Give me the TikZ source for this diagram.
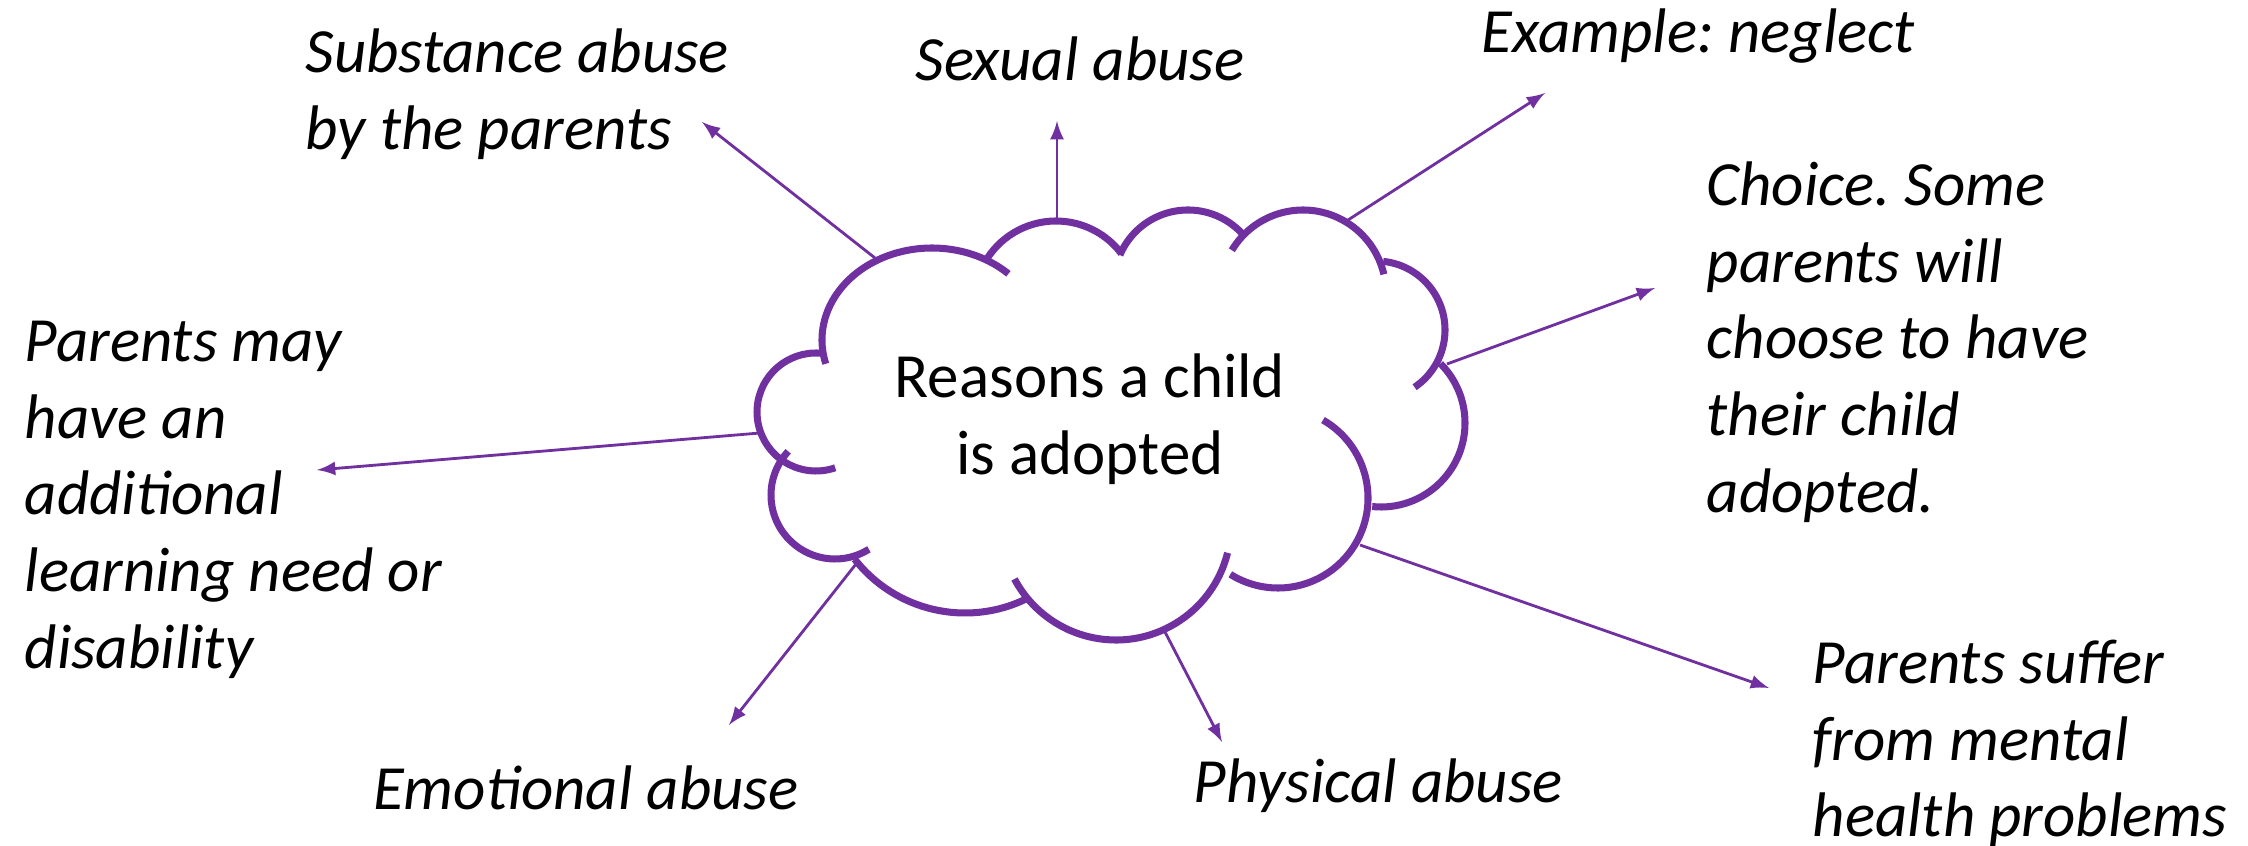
\documentclass[tikz,border=0pt]{standalone}
\usepackage{fontspec}
\setmainfont{Carlito}
\usepackage{tikz}
\usetikzlibrary{calc}
\definecolor{cloudpurple}{HTML}{7030A0}
\frenchspacing

\begin{document}
\begin{tikzpicture}[x=0.01cm,y=-0.01cm,
    cloudline/.style={cloudpurple,line width=2pt},
    reason/.style={-latex,cloudpurple,line width=0.8pt},
    lbl/.style={font=\fontsize{17.9}{21.8}\selectfont\itshape,align=left,inner sep=0pt,anchor=north west}]
    \useasboundingbox (0,0) rectangle (2248,846);
    % the cloud, one arc per bump
        \draw[cloudline] (932,340) ++(-195:110 and 92) arc[start angle=-195,end angle=-46,x radius=110,y radius=92];
        \draw[cloudline] (1056,303) ++(-147:82) arc[start angle=-147,end angle=-37,radius=82];
        \draw[cloudline] (1188,284) ++(-157:74) arc[start angle=-157,end angle=-39,radius=74];
        \draw[cloudline] (1303,293) ++(-149:83) arc[start angle=-149,end angle=-13,radius=83];
        \draw[cloudline] (1376,330) ++(-84:69) arc[start angle=-84,end angle=56,radius=69];
        \draw[cloudline] (1381,423) ++(-45:84) arc[start angle=-45,end angle=96,radius=84];
        \draw[cloudline] (1278,498) ++(-60:90) arc[start angle=-60,end angle=122,radius=90];
        \draw[cloudline] (1116,525) ++(14:115) arc[start angle=14,end angle=152,radius=115];
        \draw[cloudline] (965,473) ++(64:140) arc[start angle=64,end angle=142,radius=140];
        \draw[cloudline] (835,495) ++(-137:64) arc[start angle=-137,end angle=-302,radius=64];
        \draw[cloudline] (816,412) ++(-86:59) arc[start angle=-86,end angle=-289,radius=59];
        \node[font=\fontsize{17.9}{21.8}\selectfont,align=center,inner sep=0pt,anchor=north] (title) at (1090,343) {\strut Reasons a child\\is adopted};
    % labels
        \node[lbl] (substance) at (305,18) {\strut Substance abuse\\by the parents};
        \node[lbl] (sexual) at (915,26) {\strut Sexual abuse};
        \node[lbl] (neglect) at (1481,-2) {\strut Example: neglect};
        \node[lbl] (choice) at (1706,151) {\strut Choice. Some\\parents will\\choose to have\\their child\\adopted.};
        \node[lbl] (learning) at (24,307) {\strut Parents may\\have an\\additional\\learning need or\\disability};
        \node[lbl] (emotional) at (373,755) {\strut Emotional abuse};
        \node[lbl] (physical) at (1193,748) {\strut Physical abuse};
        \node[lbl] (mental) at (1812,629) {\strut Parents suffer\\from mental\\health problems};
    % arrows out of the cloud
        \coordinate (substance-s) at (875,258);  \coordinate (substance-e) at (702,122);
        \coordinate (sexual-s) at (1057,221);    \coordinate (sexual-e) at (1057,121);
        \coordinate (neglect-s) at (1348,220);   \coordinate (neglect-e) at (1545,93);
        \coordinate (choice-s) at (1447,364);    \coordinate (choice-e) at (1655,288);
        \coordinate (learning-s) at (760,433);   \coordinate (learning-e) at (317,470);
        \coordinate (emotional-s) at (856,564);  \coordinate (emotional-e) at (729,725);
        \coordinate (physical-s) at (1165,632);  \coordinate (physical-e) at (1222,742);
        \coordinate (mental-s) at (1360,545);    \coordinate (mental-e) at (1769,688);
        \draw[reason] (substance-s) -- (substance-e);
        \draw[reason] (sexual-s) -- (sexual-e);
        \draw[reason] (neglect-s) -- (neglect-e);
        \draw[reason] (choice-s) -- (choice-e);
        \draw[reason] (learning-s) -- (learning-e);
        \draw[reason] (emotional-s) -- (emotional-e);
        \draw[reason] (physical-s) -- (physical-e);
        \draw[reason] (mental-s) -- (mental-e);
    \end{tikzpicture}
\end{document}
